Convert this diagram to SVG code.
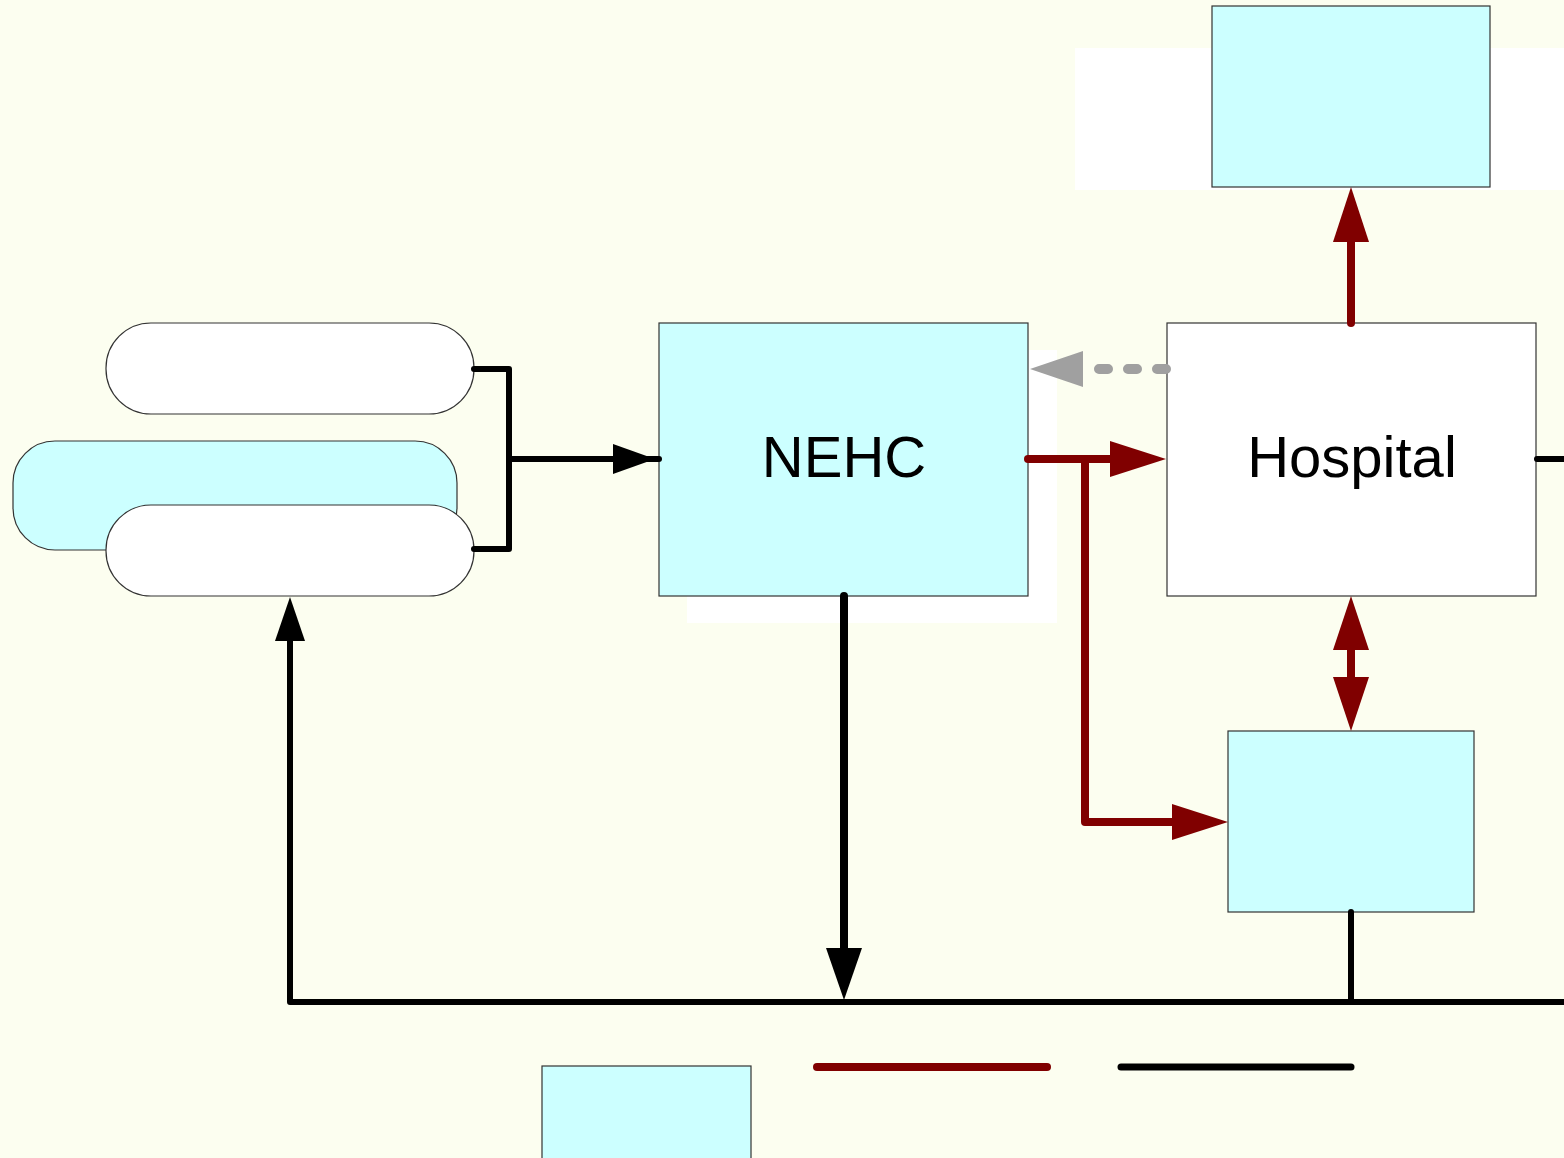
<svg xmlns="http://www.w3.org/2000/svg" width="1564" height="1158" viewBox="0 0 1564 1158">
  <defs>
    <style>
      .box { fill: #CCFFFF; stroke: #333; stroke-width: 1.2; }
      .wbox { fill: #FFFFFF; stroke: #333; stroke-width: 1.2; }
      .lbl { font-family: "Liberation Sans", Arial, sans-serif; font-size: 58px; fill: #000; text-anchor: middle; }
      .blk { fill: none; stroke: #000; stroke-linecap: round; stroke-linejoin: round; }
      .red { fill: none; stroke: #800000; stroke-width: 8; stroke-linecap: round; stroke-linejoin: round; }
      .redhead { fill: #800000; }
      .blkhead { fill: #000; }
    </style>
  </defs>

  <!-- page background -->
  <rect x="0" y="0" width="1564" height="1158" fill="#FCFEF0"/>
  <!-- white panels behind the upper boxes -->
  <rect x="1075" y="48" width="489" height="142" fill="#FFFFFF"/>
  <rect x="687" y="350" width="370" height="273" fill="#FFFFFF"/>

  <!-- nodes -->
  <g id="pill-top">
    <rect class="wbox" x="106" y="323" width="368" height="91" rx="45" ry="45"/>
  </g>
  <g id="pill-back">
    <rect class="box" x="13" y="441" width="444" height="109" rx="42" ry="42"/>
  </g>
  <g id="pill-bottom">
    <rect class="wbox" x="106" y="505" width="368" height="91" rx="45" ry="45"/>
  </g>
  <g id="nehc">
    <rect class="box" x="659" y="323" width="369" height="273"/>
    <text class="lbl" x="844" y="477">NEHC</text>
  </g>
  <g id="hospital">
    <rect class="wbox" x="1167" y="323" width="369" height="273"/>
    <text class="lbl" x="1352" y="477">Hospital</text>
  </g>
  <g id="top-box">
    <rect class="box" x="1212" y="6" width="278" height="181"/>
  </g>
  <g id="lower-box">
    <rect class="box" x="1228" y="731" width="246" height="181"/>
  </g>
  <g id="legend-box">
    <rect class="box" x="542" y="1066" width="209" height="100"/>
  </g>

  <!-- connectors -->
  <g id="connectors">
    <!-- bracket joining the two pills into NEHC -->
    <path class="blk" stroke-width="6" d="M474,369 H509 V549 H474"/>
    <path class="blk" stroke-width="6" d="M509,459 H620"/>
    <line class="blk" stroke-width="6" x1="640" y1="459" x2="659" y2="459"/>
    <polygon class="blkhead" points="613,444 655,459 613,474"/>

    <!-- dashed feedback from Hospital to NEHC -->
    <line x1="1166" y1="369" x2="1088" y2="369" stroke="#A0A0A0" stroke-width="10" stroke-linecap="round" stroke-dasharray="9 20"/>
    <polygon fill="#A0A0A0" points="1030,369 1083,351 1083,387"/>

    <!-- NEHC to Hospital and to the lower box -->
    <path class="red" d="M1028,459 H1115"/>
    <polygon class="redhead" points="1110,441 1166,459 1110,477"/>
    <path class="red" d="M1085,459 V822 H1178"/>
    <polygon class="redhead" points="1172,804 1228,822 1172,840"/>

    <!-- Hospital up to the top box -->
    <line class="red" x1="1351" y1="323" x2="1351" y2="238"/>
    <polygon class="redhead" points="1351,187 1369,242 1333,242"/>

    <!-- Hospital <-> lower box -->
    <line class="red" x1="1351" y1="645" x2="1351" y2="682"/>
    <polygon class="redhead" points="1351,596 1369,650 1333,650"/>
    <polygon class="redhead" points="1351,731 1369,677 1333,677"/>

    <!-- Hospital exit to the right -->
    <line class="blk" stroke-width="6" x1="1537" y1="459" x2="1570" y2="459"/>

    <!-- NEHC down to the return line -->
    <line class="blk" stroke-width="8" x1="844" y1="596" x2="844" y2="952"/>
    <polygon class="blkhead" points="826,948 862,948 844,1000"/>

    <!-- lower box down to the return line -->
    <line class="blk" stroke-width="6" x1="1351" y1="912" x2="1351" y2="1002"/>

    <!-- return line back to the pills -->
    <path class="blk" stroke-width="6" stroke-linecap="butt" d="M1570,1002 H290 V636"/>
    <polygon class="blkhead" points="290,597 305,641 275,641"/>

    <!-- legend strokes -->
    <line class="red" x1="817" y1="1067" x2="1047" y2="1067" stroke-width="7"/>
    <line class="blk" stroke-width="7" x1="1121" y1="1067" x2="1351" y2="1067"/>
  </g>
</svg>
